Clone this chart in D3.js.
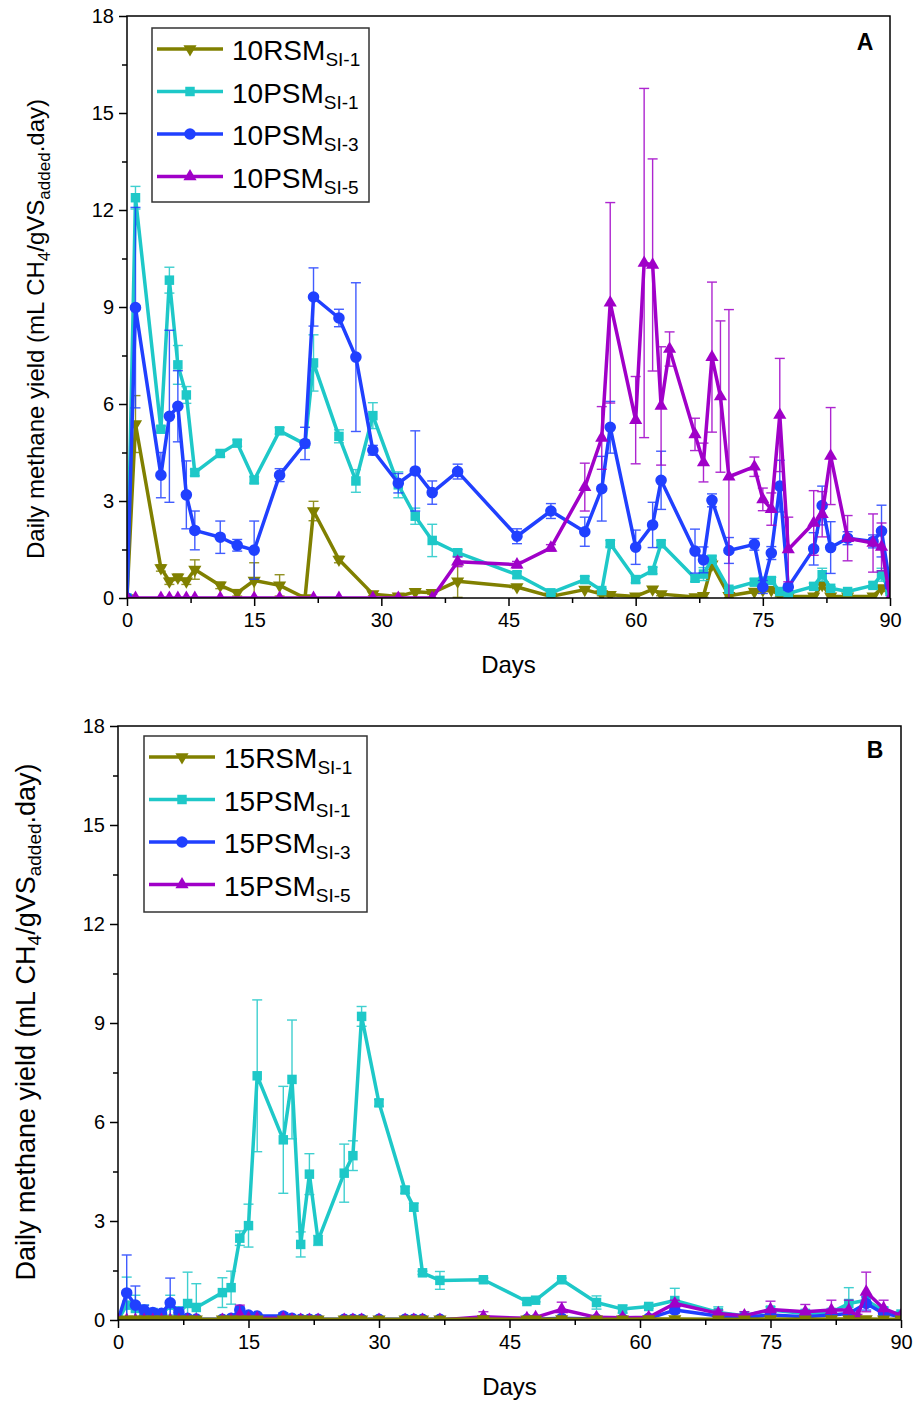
<!DOCTYPE html>
<html>
<head>
<meta charset="utf-8">
<script src="https://cdn.jsdelivr.net/npm/d3@7"></script>
<style>
    body { margin: 0; background: #fff; }
    svg text { font-family: "Liberation Sans", Arial, sans-serif; fill: #000; }
</style>
</head>
<body>
<svg id="chart" width="918" height="1405"></svg>
<script>
// ---------- panel A (10% loading) ----------
const daysA_RSM1 = [0,1,4,5,6,7,8,11,13,15,18,21,22,25,29,32,34,36,39,46,50,54,56,57,60,62,63,67,68,69,71,74,75,76,77,78,81,82,83,85,88,89,90]
const yieldA_RSM1 = [0,5.38,0.93,0.52,0.64,0.52,0.88,0.39,0.16,0.54, 0.39,0,2.69,1.19,0.12,0.05,0.19,0.16,0.52,0.34, 0.05,0.26,0.12,0.1,0.05,0.27,0.12,0.03,0.07,1.04, 0.07,0.2,0.25,0.25,0.09,0.05,0.05,0.41,0.05,0.05, 0.05,0.3,0.25]
const errA_RSM1 = [0,0.88,0.1,0.1,0.1,0.1,0.3,0.1,0.1,0.55, 0.33,0,0.3,0.1,0.05,0.05,0.05,0.05,0.5,0.05, 0.05,0.05,0.05,0.05,0.05,0.05,0.05,0.05,0.05,0.15, 0.05,0.05,0.05,0.05,0.05,0.05,0.05,0.1,0.05,0.05, 0.05,0.1,0.05]

const daysA_PSM = [0,1,4,5,6,7,8,11,13,15,18,21,22,25,27,29,32,34,36,39,46,50,54,56,57,60,62,63,67,68,69,71,74,75,76,77,78,81,82,83,85,88,89,90]
const yieldA_PSM1 = [0,12.38,5.22,9.83,7.21,6.28,3.88,4.47,4.79,3.65, 5.17,4.76,7.27,5.0,3.62,5.64,3.5,2.53,1.78,1.4, 0.72,0.16,0.57,0.23,1.68,0.57,0.85,1.68,0.61,0.74, 1.2,0.27,0.49,0.52,0.54,0.2,0.14,0.36,0.72,0.3, 0.2,0.39,0.72,0.2]
const errA_PSM1 = [0,0.35,0.1,0.4,0.6,0.26,0.1,0.1,0.1,0.1, 0.1,0.1,0.87,0.2,0.35,0.4,0.4,0.25,0.5,0.1, 0.1,0.05,0.1,0.05,0.1,0.1,0.1,0.1,0.1,0.2, 0.1,0.05,0.1,0.1,0.1,0.05,0.05,0.1,0.2,0.05, 0.05,0.1,0.2,0.05]
const yieldA_PSM3 = [0,8.98,3.8,5.62,5.93,3.19,2.09,1.88,1.63,1.48, 3.8,4.78,9.31,8.66,7.45,4.57,3.55,3.93,3.26,3.91, 1.91,2.69,2.05,3.38,5.28,1.57,2.26,3.64,1.45,1.18, 3.02,1.47,1.66,0.34,1.39,3.46,0.34,1.52,2.86,1.56, 1.85,1.75,2.07,0.4]
const errA_PSM3 = [0,3.1,0.7,2.66,1.1,1.05,0.6,0.5,0.18,0.9, 0.2,0.5,0.9,0.27,2.3,0.15,0.3,1.24,0.36,0.23, 0.23,0.23,0.45,1.0,0.8,0.53,0.7,0.9,0.68,0.4, 0.2,0.4,0.18,0.2,0.2,0.8,0.1,0.5,0.6,0.8, 0.2,0.2,0.8,0.1]

const daysA_PSM5 = [0,1,4,5,6,7,8,11,15,18,22,25,29,32,36,39,46,50,54,56,57,60,61,62,63,64,67,68,69,70,71,74,75,76,77,78,81,82,83,85,88,89,90]
const yieldA_PSM5 = [0,0,0,0,0,0,0,0,0,0, 0,0,0,0,0,1.12,1.03,1.55,3.43,4.95, 9.13,5.5,10.36,10.3,5.94,7.7,5.06,4.19,7.45,6.23, 3.75,4.06,3.05,2.75,5.66,1.5,2.32,2.59,4.39,1.85, 1.7,1.58,0]
const errA_PSM5 = [0,0,0,0,0,0,0,0,0,0, 0,0,0,0,0,0.15,0.1,0.1,0.74,0.97, 3.1,1.35,5.4,3.28,1.83,0.53,0.5,0.6,2.32,2.34, 5.17,0.3,0.35,0.5,1.75,1.0,1.0,0.7,1.5,0.7, 0.9,0.74,0]

// ---------- panel B (15% loading) ----------
const daysB = [0,1,2,3,4,5,6,7,8,9,12,13,14,15,16,19,20,21,22,23,26,27,28,30,33,34,35,37,42,47,48,51,55,58,61,64,69,72,75,79,82,84,86,88,90]
const yieldB_RSM1 = [0,0.02,0.02,0.02,0.02,0.02,0.02,0.02,0.02,0.02, 0.02,0.02,0.02,0.02,0.02,0.02,0.02,0.02,0.02,0.02, 0.02,0.02,0.02,0.02,0.02,0.02,0.02,0.02,0.03,0.02, 0.02,0.03,0.02,0.02,0.03,0.03,0.02,0.02,0.03,0.02, 0.03,0.03,0.03,0.02,0.02]
const errB_RSM1 = [0,0,0,0,0,0,0,0,0,0, 0,0,0,0,0,0,0,0,0,0, 0,0,0,0,0,0,0,0,0,0, 0,0,0,0,0,0,0,0,0,0, 0,0,0,0,0]
const yieldB_PSM1 = [0,0.45,0.35,0.25,0.2,0.15,0.45,0.2,0.5,0.38, 0.83,0.98,2.48,2.86,7.4,5.46,7.29,2.29,4.42,2.41, 4.45,4.98,9.2,6.58,3.94,3.42,1.43,1.2,1.22,0.56, 0.6,1.22,0.53,0.33,0.41,0.59,0.23,0.13,0.3,0.2, 0.23,0.5,0.6,0.28,0.18]
const errB_PSM1 = [0,0.85,0.4,0.2,0.15,0.15,0.3,0.2,0.95,0.72, 0.45,0.5,0.22,0.65,2.3,1.62,1.8,0.38,0.62,0.15, 0.88,0.45,0.3,0.1,0.1,0.12,0.05,0.27,0.05,0.05, 0.05,0.05,0.2,0.12,0.05,0.37,0.17,0.05,0.1,0.1, 0.1,0.48,0.2,0.1,0.05]
const yieldB_PSM3 = [0,0.82,0.45,0.3,0.23,0.2,0.52,0.23,0.05,0.03, 0.02,0.05,0.3,0.15,0.12,0.12,0.05,0.02,0.02,0.02, 0.02,0.02,0.02,0.02,0.02,0.02,0.02,0.02,0.02,0.02, 0.02,0.05,0.03,0.03,0.05,0.3,0.12,0.08,0.15,0.1, 0.15,0.2,0.5,0.2,0.1]
const errB_PSM3 = [0,1.15,0.58,0.15,0.1,0.1,0.75,0.15,0.05,0.05, 0.05,0.05,0.1,0.05,0.05,0.1,0.05,0.05,0.05,0.05, 0.05,0.05,0.05,0.05,0.05,0.05,0.05,0.05,0.05,0.05, 0.05,0.05,0.05,0.05,0.05,0.1,0.05,0.05,0.05,0.05, 0.05,0.1,0.2,0.1,0.05]
const daysB_PSM5 = [0,1,2,3,4,5,6,7,8,9,12,13,14,15,16,19,20,21,22,23,26,27,28,30,33,34,35,37,42,47,48,51,55,58,61,64,69,72,75,79,82,84,85,86,88,90]
const yieldB_PSM5 = [0,0,0,0,0,0,0,0,0,0, 0,0,0.15,0.05,0.05,0.05,0,0,0,0, 0,0,0,0,0,0,0,0,0.1,0.05, 0.08,0.32,0.08,0.07,0.08,0.5,0.2,0.13,0.32,0.25, 0.3,0.3,0.12,0.85,0.35,0.13]
const errB_PSM5 = [0,0,0,0,0,0,0,0,0,0, 0,0,0.3,0.05,0.05,0.05,0,0,0,0, 0,0,0,0,0,0,0,0,0.15,0.05, 0.05,0.22,0.05,0.05,0.05,0.1,0.1,0.12,0.25,0.22, 0.3,0.3,0.05,0.6,0.25,0.05]

const xTicks = [0,15,30,45,60,75,90]
const xMinor = [7.5,22.5,37.5,52.5,67.5,82.5]
const yTicks = [0,3,6,9,12,15,18]
const yMinor = [1.5,4.5,7.5,10.5,13.5,16.5]

const colors = { rsm1: '#808000', psm1: '#1ec8c8', psm3: '#2040ff', psm5: '#a000c8' }

const svg = d3.select('#chart')

function symbolPath(kind) {
    if (kind === 'square') return d3.symbol(d3.symbolSquare, 90)()
    if (kind === 'circle') return d3.symbol(d3.symbolCircle, 105)()
    return d3.symbol(d3.symbolTriangle, 75)()
}

function drawPanel(cfg) {
    const g = svg.append('g')

    const x = d3.scaleLinear().domain([0, 90]).range([cfg.left, cfg.right])
    const y = d3.scaleLinear().domain([0, 18]).range([cfg.bottom, cfg.top])

    // marks stay inside the frame, like the original plot
    g.append('clipPath').attr('id', 'clip' + cfg.letter)
        .append('rect')
        .attr('x', cfg.left).attr('y', cfg.top)
        .attr('width', cfg.right - cfg.left).attr('height', cfg.bottom - cfg.top)

    // ticks
    g.append('g').attr('transform', 'translate(0,' + cfg.bottom + ')')
        .call(d3.axisBottom(x).tickValues(xTicks).tickSize(8).tickPadding(7))
    g.append('g').attr('transform', 'translate(0,' + cfg.bottom + ')')
        .call(d3.axisBottom(x).tickValues(xMinor).tickSize(5).tickFormat(''))
    g.append('g').attr('transform', 'translate(' + cfg.left + ',0)')
        .call(d3.axisLeft(y).tickValues(yTicks).tickSize(8).tickPadding(5))
    g.append('g').attr('transform', 'translate(' + cfg.left + ',0)')
        .call(d3.axisLeft(y).tickValues(yMinor).tickSize(5).tickFormat(''))
    g.selectAll('.domain').remove()
    g.selectAll('.tick line').attr('stroke', '#000').attr('stroke-width', 1.5)
    g.selectAll('.tick text').attr('font-size', 20).attr('font-family', '"Liberation Sans", Arial, sans-serif')

    // series
    const plot = g.append('g').attr('clip-path', 'url(#clip' + cfg.letter + ')')
    cfg.series.forEach(s => {
        const pts = s.days.map((d, i) => ({ d: d, v: s.values[i], e: s.errors[i] }))
        const sg = plot.append('g')

        // error bars
        const eb = sg.append('g').attr('stroke', s.color).attr('stroke-width', 1.4).attr('opacity', 0.85)
        pts.filter(p => p.e > 0).forEach(p => {
            const lo = Math.max(0, p.v - p.e)
            const hi = p.v + p.e
            const px = x(p.d)
            eb.append('line').attr('x1', px).attr('x2', px).attr('y1', y(lo)).attr('y2', y(hi))
            eb.append('line').attr('x1', px - 5).attr('x2', px + 5).attr('y1', y(hi)).attr('y2', y(hi))
            if (lo > 0) {
                eb.append('line').attr('x1', px - 5).attr('x2', px + 5).attr('y1', y(lo)).attr('y2', y(lo))
            }
        })

        const line = d3.line().x(p => x(p.d)).y(p => y(p.v))
        sg.append('path').datum(pts)
            .attr('d', line)
            .attr('fill', 'none')
            .attr('stroke', s.color)
            .attr('stroke-width', 3.5)
            .attr('stroke-linejoin', 'round')

        sg.selectAll('path.mk').data(pts).join('path')
            .attr('class', 'mk')
            .attr('d', symbolPath(s.symbol))
            .attr('transform', p => 'translate(' + x(p.d) + ',' + y(p.v) + ')' + (s.flip ? ' rotate(180)' : ''))
            .attr('fill', s.color)
    })

    // frame
    g.append('rect')
        .attr('x', cfg.left).attr('y', cfg.top)
        .attr('width', cfg.right - cfg.left).attr('height', cfg.bottom - cfg.top)
        .attr('fill', 'none').attr('stroke', '#000').attr('stroke-width', 1.5)

    // axis titles
    g.append('text')
        .attr('x', (cfg.left + cfg.right) / 2)
        .attr('y', cfg.bottom + 75)
        .attr('text-anchor', 'middle')
        .attr('font-size', 24)
        .text('Days')

    const yt = g.append('text')
        .attr('text-anchor', 'middle')
        .attr('font-size', cfg.titleSize)
        .attr('transform', 'translate(' + cfg.titleX + ',' + cfg.titleY + ') rotate(-90)')
    const sub = Math.round(cfg.titleSize * 0.7)
    yt.append('tspan').text('Daily methane yield (mL CH')
    yt.append('tspan').attr('font-size', sub).attr('dy', 6).text('4')
    yt.append('tspan').attr('dy', -6).text('/gVS')
    yt.append('tspan').attr('font-size', sub).attr('dy', 6).text('added')
    yt.append('tspan').attr('dy', -6).text('.day)')

    // panel letter
    g.append('text')
        .attr('x', cfg.letterX).attr('y', cfg.letterY)
        .attr('text-anchor', 'middle')
        .attr('font-size', 23).attr('font-weight', 'bold')
        .text(cfg.letter)

    // legend
    const lg = g.append('g')
    lg.append('rect')
        .attr('x', cfg.legX).attr('y', cfg.legY)
        .attr('width', cfg.legW).attr('height', cfg.legH)
        .attr('fill', '#fff').attr('stroke', '#333').attr('stroke-width', 1.5)
    cfg.legendOrder.forEach((s, i) => {
        const ly = cfg.legY + 21 + i * 42.5
        lg.append('line')
            .attr('x1', cfg.legX + 5).attr('x2', cfg.legX + 71)
            .attr('y1', ly).attr('y2', ly)
            .attr('stroke', s.color).attr('stroke-width', 3.5)
        lg.append('path')
            .attr('d', symbolPath(s.symbol))
            .attr('transform', 'translate(' + (cfg.legX + 38) + ',' + ly + ')' + (s.flip ? ' rotate(180)' : ''))
            .attr('fill', s.color)
        const t = lg.append('text').attr('x', cfg.legX + 80).attr('y', ly + 11).attr('font-size', 28)
        t.append('tspan').text(s.name)
        t.append('tspan').attr('font-size', 19).attr('dy', 6).text(s.sub)
    })
}

// Panel A
const serA = {
    rsm1: { name: '10RSM', sub: 'SI-1', color: colors.rsm1, symbol: 'triangle', flip: true, days: daysA_RSM1, values: yieldA_RSM1, errors: errA_RSM1 },
    psm1: { name: '10PSM', sub: 'SI-1', color: colors.psm1, symbol: 'square', days: daysA_PSM, values: yieldA_PSM1, errors: errA_PSM1 },
    psm3: { name: '10PSM', sub: 'SI-3', color: colors.psm3, symbol: 'circle', days: daysA_PSM, values: yieldA_PSM3, errors: errA_PSM3 },
    psm5: { name: '10PSM', sub: 'SI-5', color: colors.psm5, symbol: 'triangle', days: daysA_PSM5, values: yieldA_PSM5, errors: errA_PSM5 }
}
drawPanel({
    left: 127, right: 890, top: 16, bottom: 598,
    series: [serA.rsm1, serA.psm1, serA.psm3, serA.psm5],
    legendOrder: [serA.rsm1, serA.psm1, serA.psm3, serA.psm5],
    legX: 152, legY: 28, legW: 217, legH: 174,
    letter: 'A', letterX: 865, letterY: 50,
    titleX: 44, titleY: 329, titleSize: 24
})

// Panel B
const serB = {
    rsm1: { name: '15RSM', sub: 'SI-1', color: colors.rsm1, symbol: 'triangle', flip: true, days: daysB, values: yieldB_RSM1, errors: errB_RSM1 },
    psm1: { name: '15PSM', sub: 'SI-1', color: colors.psm1, symbol: 'square', days: daysB, values: yieldB_PSM1, errors: errB_PSM1 },
    psm3: { name: '15PSM', sub: 'SI-3', color: colors.psm3, symbol: 'circle', days: daysB, values: yieldB_PSM3, errors: errB_PSM3 },
    psm5: { name: '15PSM', sub: 'SI-5', color: colors.psm5, symbol: 'triangle', days: daysB_PSM5, values: yieldB_PSM5, errors: errB_PSM5 }
}
drawPanel({
    left: 118, right: 901, top: 726, bottom: 1320,
    series: [serB.psm1, serB.psm3, serB.psm5, serB.rsm1],
    legendOrder: [serB.rsm1, serB.psm1, serB.psm3, serB.psm5],
    legX: 144, legY: 736, legW: 223, legH: 176,
    letter: 'B', letterX: 875, letterY: 758,
    titleX: 35, titleY: 1022, titleSize: 27
})
</script>
</body>
</html>
